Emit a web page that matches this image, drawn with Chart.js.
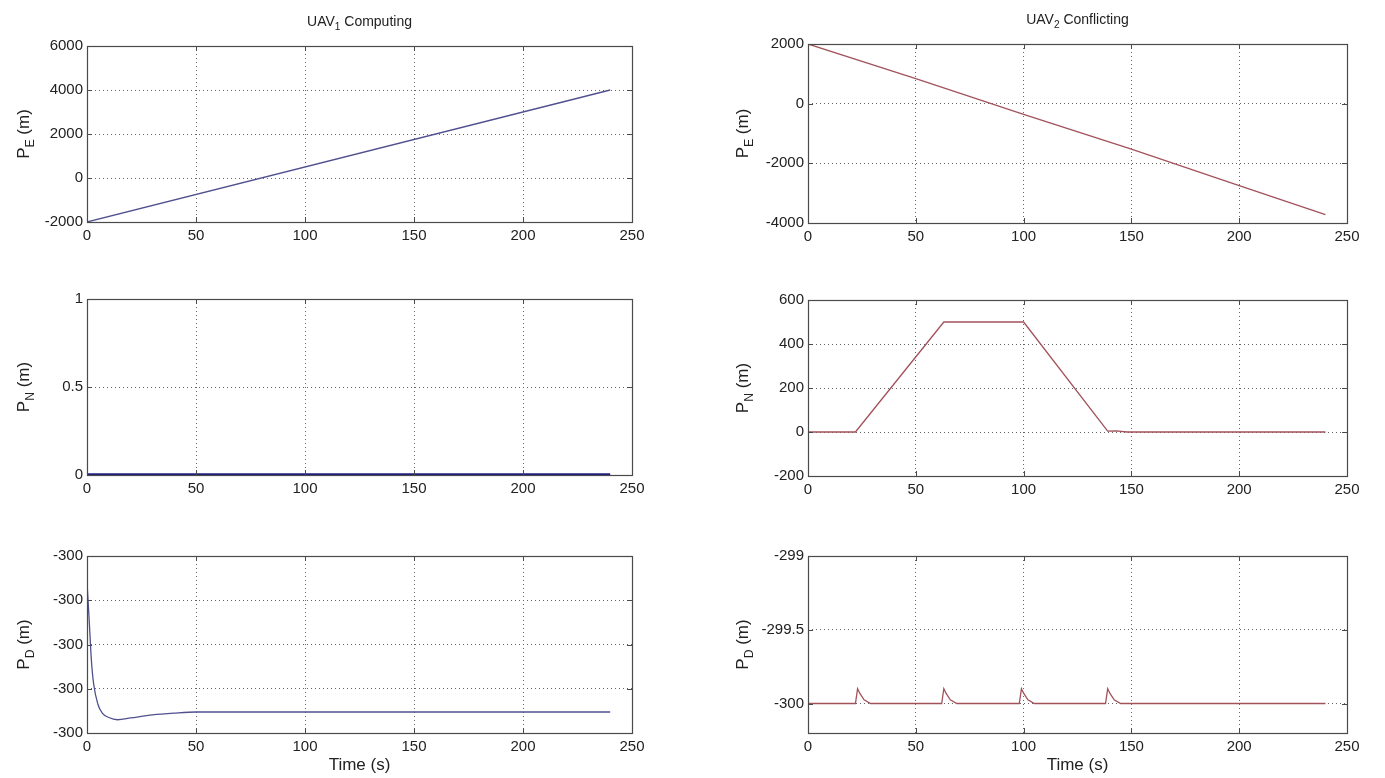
<!DOCTYPE html>
<html>
<head>
<meta charset="utf-8">
<script src="https://cdn.jsdelivr.net/npm/chart.js@4"></script>
<style>
	body { margin: 0; background: #fff; width: 1385px; height: 778px; overflow: hidden; position: relative; }
	.cell { position: absolute; }
</style>
</head>
<body>
<div class="cell" style="left:0;top:0;width:660px;height:250px"><canvas id="pe1"></canvas></div>
<div class="cell" style="left:700px;top:0;width:680px;height:250px"><canvas id="pe2"></canvas></div>
<div class="cell" style="left:0;top:255px;width:660px;height:250px"><canvas id="pn1"></canvas></div>
<div class="cell" style="left:700px;top:255px;width:680px;height:250px"><canvas id="pn2"></canvas></div>
<div class="cell" style="left:0;top:510px;width:660px;height:268px"><canvas id="pd1"></canvas></div>
<div class="cell" style="left:700px;top:510px;width:680px;height:268px"><canvas id="pd2"></canvas></div>
<script>
var FONT = '"Liberation Sans", Arial, sans-serif';

// UAV1 (computing)
var pe1Time = [0, 240];
var pe1Vals = [-2000, 4000];
var pn1Time = [0, 240];
var pn1Vals = [0, 0];
var pd1Time = [0, 1, 2, 3, 5, 7, 10, 14, 20, 30, 40, 50, 240];
var pd1Vals = [-299.72, -299.89, -300.07, -300.175, -300.27, -300.31, -300.33, -300.34, -300.332, -300.318, -300.31, -300.305, -300.305];

// UAV2 (conflicting)
var pe2Time = [0, 50, 100, 150, 200, 240];
var pe2Vals = [2000, 840, -360, -1520, -2750, -3720];
var pn2Time = [0, 22, 63, 100, 139, 143, 148, 240];
var pn2Vals = [0, 0, 500, 500, 4, 5, 0, 0];
var pd2Time = [0, 22, 23, 24, 26, 29, 62, 63, 64, 66, 69, 98, 99, 100, 102, 105, 138, 139, 140, 142, 145, 240];
var pd2Vals = [-300, -300, -299.90, -299.93, -299.975, -300, -300, -299.90, -299.93, -299.975, -300, -300, -299.90, -299.93, -299.975, -300, -300, -299.90, -299.93, -299.975, -300, -300];

var xTicks = [0, 50, 100, 150, 200, 250];

function pts(t, v) {
	return t.map(function(x, i) { return { x: x, y: v[i] }; });
}

function drawParts(ctx, parts, size) {
	var w = 0;
	parts.forEach(function(p) {
		ctx.font = (p[1] ? size * 0.72 : size) + 'px ' + FONT;
		w += ctx.measureText(p[0]).width;
	});
	var x = -w / 2;
	parts.forEach(function(p) {
		ctx.font = (p[1] ? size * 0.72 : size) + 'px ' + FONT;
		ctx.fillText(p[0], x, p[1] ? size * 0.38 : 0);
		x += ctx.measureText(p[0]).width;
	});
}

var frame = {
	id: 'frame',
	afterDraw: function(chart, args, opts) {
		var ctx = chart.ctx, a = chart.chartArea;
		var xs = chart.scales.x, ys = chart.scales.y;
		ctx.save();
		ctx.strokeStyle = '#4a4a4a';
		ctx.lineWidth = 1.2;
		ctx.strokeRect(Math.round(a.left) + 0.5, Math.round(a.top) + 0.5, Math.round(a.right - a.left), Math.round(a.bottom - a.top));
		// inward tick marks, matlab style
		ctx.lineWidth = 1;
		ctx.beginPath();
		xs.ticks.forEach(function(t) {
			var px = Math.round(xs.getPixelForValue(t.value)) + 0.5;
			ctx.moveTo(px, a.bottom); ctx.lineTo(px, a.bottom - 5);
			ctx.moveTo(px, a.top); ctx.lineTo(px, a.top + 5);
		});
		ys.ticks.forEach(function(t) {
			var py = Math.round(ys.getPixelForValue(t.value)) + 0.5;
			ctx.moveTo(a.left, py); ctx.lineTo(a.left + 5, py);
			ctx.moveTo(a.right, py); ctx.lineTo(a.right - 5, py);
		});
		ctx.stroke();

		ctx.fillStyle = '#222';
		ctx.textAlign = 'left';
		ctx.textBaseline = 'middle';
		var cx = (a.left + a.right) / 2;
		if (opts.title) {
			ctx.save();
			ctx.translate(cx, a.top - 24);
			drawParts(ctx, opts.title, 14);
			ctx.restore();
		}
		if (opts.ylabel) {
			ctx.save();
			ctx.translate(opts.ylabelX, (a.top + a.bottom) / 2);
			ctx.rotate(-Math.PI / 2);
			drawParts(ctx, opts.ylabel, 17);
			ctx.restore();
		}
		if (opts.xlabel) {
			ctx.save();
			ctx.translate(cx, a.bottom + 32);
			drawParts(ctx, [[opts.xlabel, false]], 17);
			ctx.restore();
		}
		ctx.restore();
	}
};

function makeChart(id, cfg) {
	var yScale = {
		type: 'linear',
		min: cfg.ymin,
		max: cfg.ymax,
		ticks: {
			stepSize: cfg.ystep,
			color: '#222',
			font: { family: FONT, size: 15 },
			padding: 4,
			callback: cfg.ylab || function(v) { return v; }
		},
		grid: { color: '#666', lineWidth: 1, drawTicks: false },
		border: { display: false, dash: [1, 3] },
		afterFit: function(s) { s.width = cfg.yw; }
	};
	if (cfg.yticks) {
		yScale.afterBuildTicks = function(s) {
			s.ticks = cfg.yticks.map(function(v) { return { value: v }; });
		};
	}
	return new Chart(document.getElementById(id), {
		type: 'line',
		data: {
			datasets: [{
				data: pts(cfg.t, cfg.v),
				borderColor: cfg.color,
				borderWidth: cfg.lw || 1.3,
				pointRadius: 0,
				fill: false,
				cubicInterpolationMode: cfg.smooth ? 'monotone' : 'default',
				tension: 0
			}]
		},
		options: {
			responsive: true,
			maintainAspectRatio: false,
			animation: false,
			layout: { padding: { top: cfg.padTop, right: cfg.padRight, left: 0, bottom: 0 } },
			plugins: {
				legend: { display: false },
				tooltip: { enabled: false },
				frame: { title: cfg.title, ylabel: cfg.ylabel, ylabelX: cfg.ylabelX, xlabel: cfg.xlabel }
			},
			scales: {
				x: {
					type: 'linear',
					min: 0,
					max: 250,
					afterBuildTicks: function(s) {
						s.ticks = xTicks.map(function(v) { return { value: v }; });
					},
					ticks: { color: '#222', font: { family: FONT, size: 15 }, padding: 5, maxRotation: 0 },
					grid: { color: '#666', lineWidth: 1, drawTicks: false },
					border: { display: false, dash: [1, 3] },
					afterFit: function(s) { s.height = cfg.xh; }
				},
				y: yScale
			}
		},
		plugins: [frame]
	});
}

var BLUE = '#50508f';
var RED = '#a2525a';

makeChart('pe1', { t: pe1Time, v: pe1Vals, color: BLUE, ymin: -2000, ymax: 6000, ystep: 2000,
	yw: 87, padRight: 28, padTop: 46, xh: 28, ylabelX: 24,
	title: [['UAV', false], ['1', true], [' Computing', false]], ylabel: [['P', false], ['E', true], [' (m)', false]] });

makeChart('pe2', { t: pe2Time, v: pe2Vals, color: RED, ymin: -4000, ymax: 2000, ystep: 2000,
	yw: 108, padRight: 33, padTop: 44, xh: 27, ylabelX: 43,
	title: [['UAV', false], ['2', true], [' Conflicting', false]], ylabel: [['P', false], ['E', true], [' (m)', false]] });

makeChart('pn1', { t: pn1Time, v: pn1Vals, color: '#1e1e82', lw: 3.5, ymin: 0, ymax: 1, ystep: 0.5,
	yw: 87, padRight: 28, padTop: 44, xh: 30, ylabelX: 24,
	ylabel: [['P', false], ['N', true], [' (m)', false]] });

makeChart('pn2', { t: pn2Time, v: pn2Vals, color: RED, ymin: -200, ymax: 600, ystep: 200,
	yw: 108, padRight: 33, padTop: 45, xh: 29, ylabelX: 43,
	ylabel: [['P', false], ['N', true], [' (m)', false]] });

makeChart('pd1', { t: pd1Time, v: pd1Vals, color: BLUE, smooth: true, ymin: -300.4, ymax: -299.6, ystep: 0.2,
	ylab: function(v) { return Math.round(v); },
	yw: 87, padRight: 28, padTop: 46, xh: 45, ylabelX: 24, xlabel: 'Time (s)',
	ylabel: [['P', false], ['D', true], [' (m)', false]] });

makeChart('pd2', { t: pd2Time, v: pd2Vals, color: RED, ymin: -300.2, ymax: -299, yticks: [-300, -299.5, -299],
	yw: 108, padRight: 33, padTop: 46, xh: 45, ylabelX: 43, xlabel: 'Time (s)',
	ylabel: [['P', false], ['D', true], [' (m)', false]] });
</script>
</body>
</html>
